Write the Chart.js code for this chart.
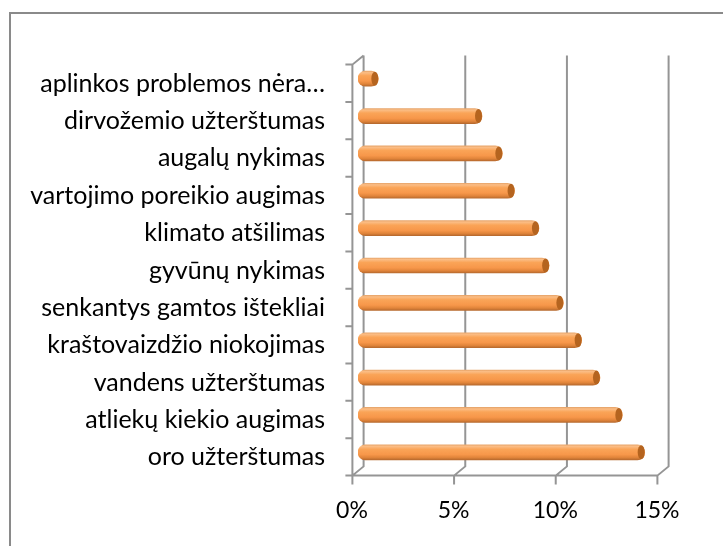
<!DOCTYPE html>
<html>
<head>
<meta charset="utf-8">
<script src="https://cdn.jsdelivr.net/npm/chart.js@4.4.0/dist/chart.umd.min.js"></script>
<style>
  html, body { margin: 0; padding: 0; background: #fff; overflow: hidden; }
  #frame {
    position: absolute; left: 9px; top: 12px; width: 800px; height: 600px;
    border-left: 2px solid #8a8a8a; border-top: 2px solid #8a8a8a;
  }
  #wrap { position: absolute; left: 0; top: 0; width: 723px; height: 546px; }
</style>
</head>
<body>
<div id="frame"></div>
<div id="wrap"><canvas id="myChart" width="723" height="546"></canvas></div>
<script>
//chart data
const categories = [
  "aplinkos problemos nėra…",
  "dirvožemio užterštumas",
  "augalų nykimas",
  "vartojimo poreikio augimas",
  "klimato atšilimas",
  "gyvūnų nykimas",
  "senkantys gamtos ištekliai",
  "kraštovaizdžio niokojimas",
  "vandens užterštumas",
  "atliekų kiekio augimas",
  "oro užterštumas"
];
const shares = [1.0, 6.1, 7.1, 7.7, 8.9, 9.4, 10.1, 11.0, 11.9, 13.0, 14.1];
const xTicks = [0, 5, 10, 15];

const lineColor = "#959595";
const capColor = "#b5641f";
//3d depth offset (half of it, from the middle of the bars)
const DX = 5.6;
const DY = 4.6;
const BAR = 15;

//orange cylinder look
function barGradient(context) {
  let chart = context.chart;
  if (!chart.chartArea) {
    return "#f79646";
  }
  let yc = chart.scales.y.getPixelForValue(context.dataIndex);
  let g = chart.ctx.createLinearGradient(0, yc - BAR / 2, 0, yc + BAR / 2);
  g.addColorStop(0, "#e8a66c");
  g.addColorStop(0.1, "#fbbd85");
  g.addColorStop(0.3, "#faa457");
  g.addColorStop(0.65, "#f7974a");
  g.addColorStop(0.85, "#e0843a");
  g.addColorStop(1, "#b86a2e");
  return g;
}

//back wall, floor and left wall lines
const wallPlugin = {
  id: "walls",
  beforeDatasetsDraw(chart) {
    let ctx = chart.ctx;
    let x = chart.scales.x;
    let y = chart.scales.y;
    let top = y.top;
    let bottom = y.bottom;
    let x0 = x.getPixelForValue(xTicks[0]);
    let xEnd = x.getPixelForValue(xTicks[xTicks.length - 1]);
    ctx.save();
    ctx.strokeStyle = lineColor;
    ctx.lineWidth = 2;
    ctx.beginPath();
    for (let v of xTicks) {
      let px = x.getPixelForValue(v);
      ctx.moveTo(px + DX, top - DY);
      ctx.lineTo(px + DX, bottom - DY);
      ctx.lineTo(px - DX, bottom + DY);
      ctx.lineTo(px - DX, bottom + DY + 9);
    }
    ctx.moveTo(x0 - DX, bottom + DY);
    ctx.lineTo(xEnd - DX, bottom + DY);
    ctx.moveTo(x0 + DX, top - DY);
    ctx.lineTo(x0 - DX, top + DY);
    ctx.lineTo(x0 - DX, bottom + DY);
    let n = categories.length;
    for (let k = 0; k <= n; k++) {
      let yy = top + DY + (k * (bottom - top)) / n;
      ctx.moveTo(x0 - DX - 7, yy);
      ctx.lineTo(x0 - DX, yy);
    }
    ctx.stroke();
    ctx.restore();
  }
};

//darker end face of every cylinder
const capPlugin = {
  id: "caps",
  afterDatasetsDraw(chart) {
    let ctx = chart.ctx;
    let meta = chart.getDatasetMeta(0);
    ctx.save();
    for (let bar of meta.data) {
      let p = bar.getProps(["x", "y", "height"], true);
      ctx.beginPath();
      ctx.ellipse(p.x - 3.5, p.y, 3.5, p.height / 2 - 0.5, 0, 0, Math.PI * 2);
      ctx.fillStyle = capColor;
      ctx.fill();
    }
    ctx.restore();
  }
};

Chart.defaults.font.family = "Lato";
Chart.defaults.color = "#000";

const ctx = document.getElementById("myChart").getContext("2d");
const chart = new Chart(ctx, {
  type: "bar",
  data: {
    labels: categories,
    datasets: [
      {
        data: shares,
        backgroundColor: barGradient,
        borderWidth: 0,
        borderRadius: 7.5,
        borderSkipped: false,
        barThickness: BAR
      }
    ]
  },
  options: {
    indexAxis: "y",
    responsive: false,
    animation: false,
    layout: { padding: { left: 0, top: 60, right: 60, bottom: 0 } },
    plugins: {
      legend: { display: false },
      tooltip: { enabled: false }
    },
    scales: {
      x: {
        min: 0,
        max: 15,
        afterFit: scale => { scale.height = 75; },
        afterBuildTicks: scale => {
          scale.ticks = xTicks.map(v => ({ value: v }));
        },
        grid: { display: false, drawTicks: false },
        border: { display: false },
        ticks: {
          font: { size: 23 },
          padding: 26,
          labelOffset: -6,
          callback: v => v + "%"
        }
      },
      y: {
        afterFit: scale => { scale.width = 358; },
        grid: { display: false, drawTicks: false },
        border: { display: false },
        ticks: {
          font: { size: 25 },
          padding: 33,
          labelOffset: 5
        }
      }
    }
  },
  plugins: [wallPlugin, capPlugin]
});
</script>
</body>
</html>
